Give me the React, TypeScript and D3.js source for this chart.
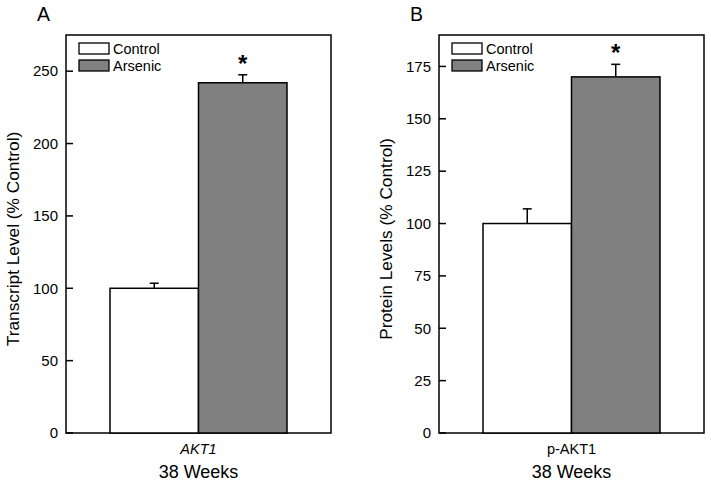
import React from 'react';
import * as d3 from 'd3';

const groups = ['Control', 'Arsenic'];
const groupFill = ['#ffffff', '#808080'];

const transcriptMeans = [100, 242];
const transcriptErrors = [3.5, 5.5];
const transcriptTicks = [0, 50, 100, 150, 200, 250];

const proteinMeans = [100, 170];
const proteinErrors = [7, 6];
const proteinTicks = [0, 25, 50, 75, 100, 125, 150, 175];

const sigFlags = [false, true];

interface PanelProps {
    left: number;
    letter: string;
    yTitle: string;
    category: string;
    italic: boolean;
    means: number[];
    errors: number[];
    ticks: number[];
    yMax: number;
}

const font = '"Liberation Sans", Arial, sans-serif';
const top = 35;
const bottom = 433;
const plotW = 265;

function Panel({ left, letter, yTitle, category, italic, means, errors, ticks, yMax }: PanelProps) {
    const y = d3.scaleLinear().domain([0, yMax]).range([bottom, top]);
    const x = d3.scaleBand().domain(groups).range([left + 44, left + 221]).padding(0);
    const cx = left + plotW / 2;

    return (
        <g fontFamily={font} fill="#000">
            <text x={left - 29} y={21} fontSize={19.5}>{letter}</text>
            {/* frame */}
            <rect x={left} y={top} width={plotW} height={bottom - top} fill="none" stroke="#000" strokeWidth={1.5} />
            {/* ticks */}
            {ticks.map(t => (
                <g key={t}>
                    <line x1={left} x2={left + 7} y1={y(t)} y2={y(t)} stroke="#000" strokeWidth={1.5} />
                    <text x={left - 8} y={y(t)} dy="0.35em" textAnchor="end" fontSize={15}>{t}</text>
                </g>
            ))}
            {/* bars */}
            {groups.map((g, i) => {
                const bx = x(g)!;
                const mid = bx + x.bandwidth() / 2;
                const errTop = y(means[i] + errors[i]);
                return (
                    <g key={g}>
                        <line x1={mid} x2={mid} y1={y(means[i])} y2={errTop} stroke="#000" strokeWidth={1.5} />
                        <line x1={mid - 4.5} x2={mid + 4.5} y1={errTop} y2={errTop} stroke="#000" strokeWidth={1.5} />
                        <rect x={bx} y={y(means[i])} width={x.bandwidth()} height={bottom - y(means[i])}
                            fill={groupFill[i]} stroke="#000" strokeWidth={1.5} />
                        {sigFlags[i] && (
                            <text x={mid} y={errTop - 3} textAnchor="middle" fontSize={24} fontWeight="bold">*</text>
                        )}
                    </g>
                );
            })}
            {/* legend */}
            {groups.map((g, i) => (
                <g key={g}>
                    <rect x={left + 13} y={43 + i * 17} width={30} height={11} fill={groupFill[i]} stroke="#000" strokeWidth={1.3} />
                    <text x={left + 47} y={48.5 + i * 17} dy="0.35em" fontSize={14.5}>{g}</text>
                </g>
            ))}
            {/* x labels */}
            <text x={cx} y={454} textAnchor="middle" fontSize={14.5} fontStyle={italic ? 'italic' : 'normal'}>{category}</text>
            <text x={cx} y={478} textAnchor="middle" fontSize={18}>38 Weeks</text>
            {/* y title */}
            <text transform={`translate(${left - 47},${(top + bottom) / 2 + 5}) rotate(-90)`} textAnchor="middle" fontSize={17.3}>{yTitle}</text>
        </g>
    );
}

export default function App() {
    return (
        <svg width={711} height={484} style={{ position: 'absolute', left: 0, top: 0, background: '#fff' }}>
            <Panel left={66} letter="A" yTitle="Transcript Level (% Control)" category="AKT1" italic
                means={transcriptMeans} errors={transcriptErrors} ticks={transcriptTicks} yMax={275} />
            <Panel left={439} letter="B" yTitle="Protein Levels (% Control)" category="p-AKT1" italic={false}
                means={proteinMeans} errors={proteinErrors} ticks={proteinTicks} yMax={190} />
        </svg>
    );
}
